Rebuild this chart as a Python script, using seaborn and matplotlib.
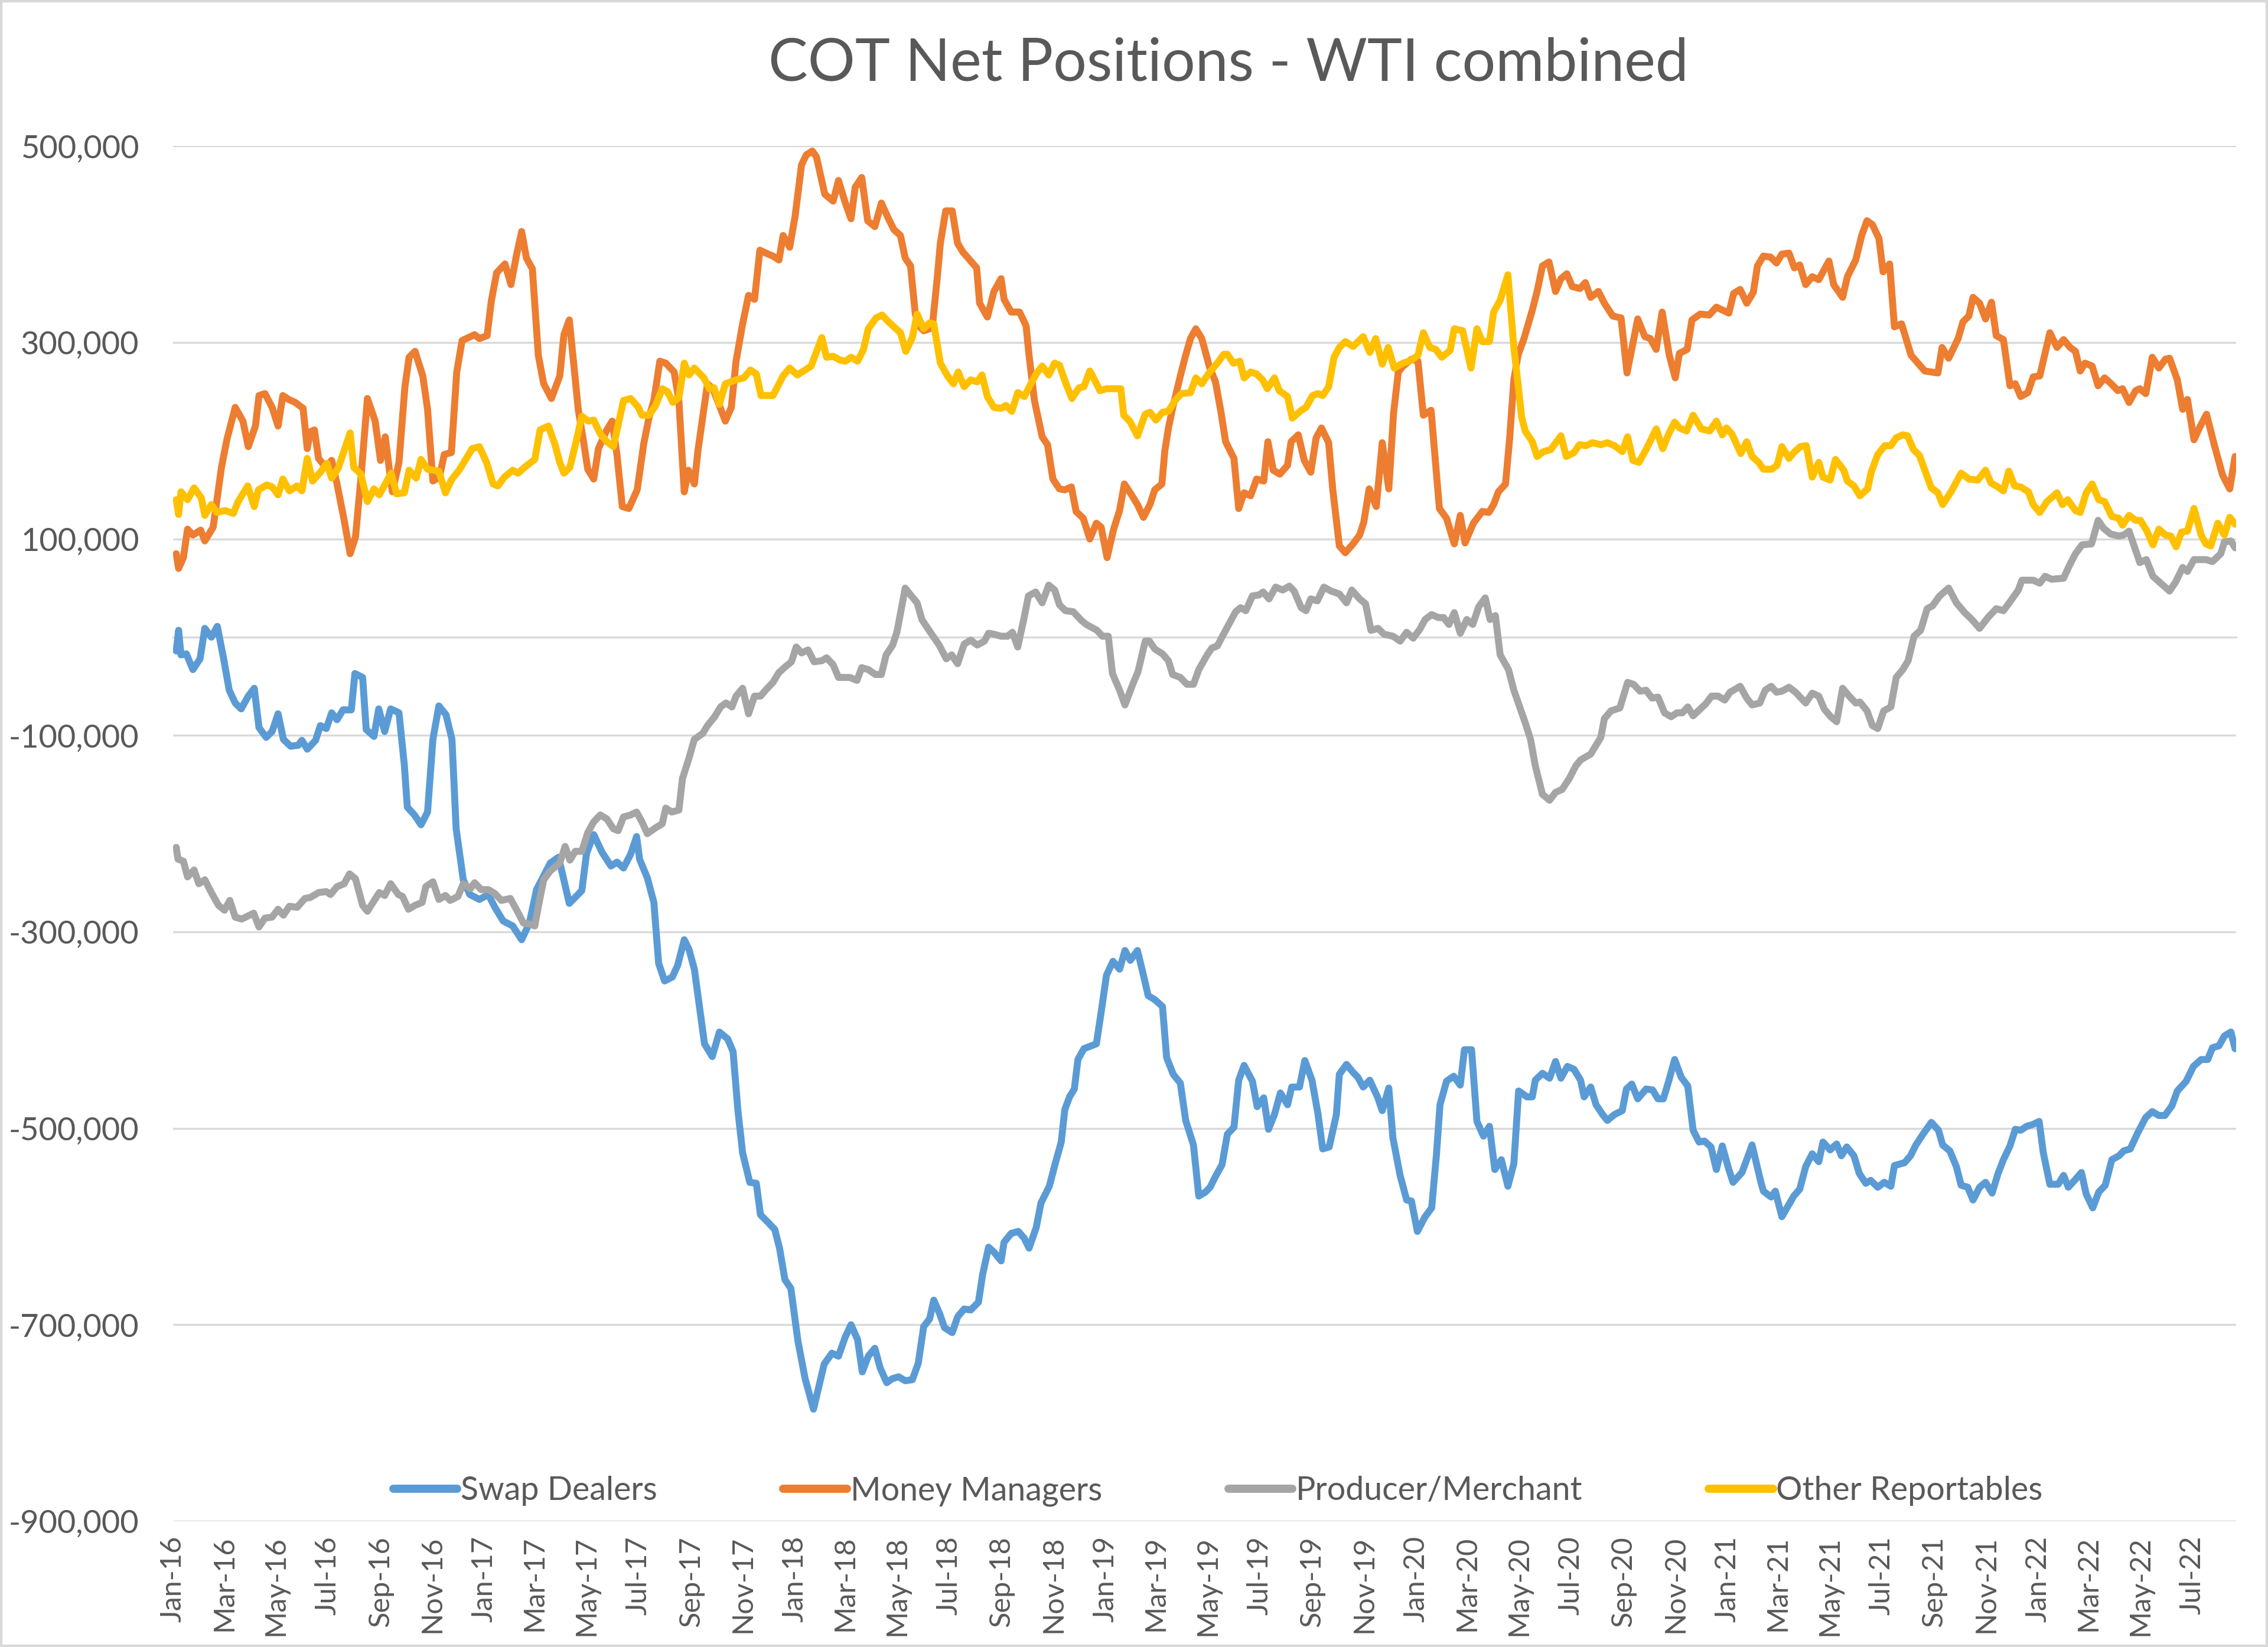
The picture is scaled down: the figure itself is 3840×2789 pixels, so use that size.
import numpy as np
import pandas as pd
import matplotlib
matplotlib.use('Agg')
import matplotlib.pyplot as plt
import matplotlib.dates as mdates
from matplotlib.ticker import FuncFormatter
from matplotlib.patches import Rectangle
import seaborn as sns

# first weekly COT report shown on the chart
START = pd.Timestamp('2016-01-05')

# (weeks since START, net position in thousands of contracts)
swap_dealers = [
    (0, -14), (0.4, 7), (0.8, -18), (1.7, -17), (2.8, -33), (4.0, -22), (4.8, 9), (5.9, 0),
    (6.9, 11), (7.9, -20), (8.9, -54), (9.9, -67), (10.9, -73), (12.1, -60), (13.1, -52),
    (13.9, -92), (15.1, -102), (16.1, -96), (17.1, -78), (18.0, -104), (19.2, -111),
    (20.5, -110), (21.1, -105), (22.0, -114), (23.4, -105), (24.2, -90), (25.2, -93),
    (26.1, -77), (27.0, -84), (28.0, -74), (29.4, -74), (30.0, -37), (31.3, -41), (31.9, -94),
    (33.2, -101), (34.0, -73), (35.0, -96), (36.0, -73), (37.4, -77), (38.3, -130),
    (38.8, -173), (40.0, -181), (41.1, -191), (42.2, -178), (43.1, -104), (44.1, -70),
    (45.3, -79), (46.3, -104), (47.0, -195), (48.2, -247), (49.3, -262), (50.9, -267),
    (52.4, -262), (53.5, -275), (54.9, -289), (56.5, -294), (58.0, -308), (59.3, -291),
    (60.5, -257), (61.7, -243), (62.8, -230), (64.2, -224), (65.0, -245), (66.0, -271),
    (68.1, -258), (68.9, -220), (70.1, -201), (71.5, -219), (73.0, -233), (74.0, -229),
    (75.1, -235), (76.3, -221), (77.3, -203), (77.8, -226), (79.1, -245), (80.2, -270),
    (81.0, -332), (82.0, -350), (83.3, -346), (84.2, -334), (85.3, -308), (86.1, -318),
    (87.0, -338), (88.7, -414), (90.0, -427), (91.2, -402), (92.6, -409), (93.5, -422),
    (94.3, -481), (95.1, -525), (96.3, -555), (97.4, -556), (98.1, -588), (99.4, -596),
    (100.5, -603), (101.3, -622), (102.2, -654), (103.2, -663), (104.4, -717), (105.6, -755),
    (107.0, -786), (108.8, -740), (110.1, -729), (111.2, -732), (112.3, -713), (113.3, -700),
    (114.4, -715), (115.2, -748), (116.2, -732), (117.3, -724), (118.2, -744), (119.3, -759),
    (120.2, -755), (121.3, -753), (122.4, -757), (123.6, -756), (124.6, -739), (125.5, -702),
    (126.5, -694), (127.2, -675), (128.2, -689), (129.0, -703), (130.3, -708), (131.2, -692),
    (132.3, -684), (133.4, -685), (134.7, -677), (135.4, -649), (136.4, -621), (137.3, -626),
    (138.5, -635), (139.0, -616), (140.2, -607), (141.4, -605), (142.4, -612), (143.2, -622),
    (144.4, -601), (145.2, -576), (146.6, -559), (147.5, -538), (148.6, -514), (149.2, -481),
    (150.0, -468), (150.8, -460), (151.4, -430), (152.4, -419), (154.5, -414), (155.3, -382),
    (156.2, -344), (157.3, -330), (158.4, -338), (159.3, -319), (160.2, -329), (161.4, -319),
    (162.4, -344), (163.2, -365), (164.3, -369), (165.6, -376), (166.3, -428), (167.4, -445),
    (168.6, -454), (169.5, -492), (170.8, -517), (171.7, -569), (172.8, -565), (173.6, -560),
    (174.5, -549), (175.6, -537), (176.5, -506), (177.6, -499), (178.4, -451), (179.3, -436),
    (180.7, -452), (181.5, -478), (182.6, -469), (183.4, -501), (184.4, -486), (185.4, -464),
    (186.6, -476), (187.3, -458), (188.6, -458), (189.5, -431), (190.7, -451), (191.7, -485),
    (192.5, -521), (193.6, -519), (194.8, -486), (195.3, -445), (196.5, -435), (197.6, -443),
    (198.4, -448), (199.3, -458), (200.4, -451), (201.7, -468), (202.5, -482), (203.6, -459),
    (204.3, -510), (205.5, -548), (206.6, -573), (207.4, -574), (208.4, -605), (209.7, -590),
    (210.8, -581), (211.6, -527), (212.2, -476), (213.3, -452), (214.5, -447), (215.6, -456),
    (216.3, -420), (217.5, -420), (218.4, -493), (219.5, -508), (220.5, -498), (221.4, -542),
    (222.5, -532), (223.6, -559), (224.6, -536), (225.4, -462), (226.8, -468), (227.7, -468),
    (228.2, -451), (229.4, -444), (230.6, -449), (231.6, -432), (232.5, -449), (233.6, -437),
    (234.7, -440), (235.8, -451), (236.4, -468), (237.5, -458), (238.4, -476), (239.5, -486),
    (240.3, -492), (241.5, -486), (242.8, -482), (243.5, -460), (244.4, -455), (245.4, -470),
    (246.8, -460), (247.9, -461), (248.8, -470), (249.7, -470), (250.6, -452), (251.6, -430),
    (252.7, -448), (253.8, -457), (254.7, -502), (255.7, -514), (256.6, -513), (257.7, -519),
    (258.6, -542), (259.6, -518), (260.6, -540), (261.4, -555), (262.9, -545), (263.7, -532),
    (264.6, -517), (266.0, -553), (266.5, -564), (267.8, -570), (268.5, -564), (269.6, -590),
    (271.6, -569), (272.6, -562), (273.6, -539), (274.7, -526), (275.8, -534), (276.5, -514),
    (277.7, -522), (278.8, -516), (279.6, -528), (280.5, -519), (281.7, -528), (282.6, -546),
    (283.7, -556), (284.5, -553), (285.7, -560), (286.8, -555), (287.9, -559), (288.5, -538),
    (290.2, -535), (291.2, -528), (292.1, -517), (293.3, -506), (294.7, -494), (295.9, -502),
    (296.6, -517), (297.8, -523), (298.9, -539), (299.7, -558), (300.8, -560), (301.7, -573),
    (302.8, -560), (303.8, -555), (304.9, -566), (305.9, -546), (306.8, -532), (307.9, -518),
    (308.8, -501), (309.7, -502), (310.7, -498), (311.8, -496), (312.8, -493), (313.5, -525),
    (314.6, -557), (316.0, -557), (316.9, -548), (317.7, -560), (318.9, -552), (319.9, -545),
    (320.7, -567), (321.8, -581), (322.8, -565), (323.9, -558), (325.0, -532), (326.2, -528),
    (327.0, -523), (328.1, -521), (329.4, -504), (330.7, -489), (331.8, -483), (332.9, -487),
    (333.9, -487), (335.1, -477), (336.0, -462), (337.5, -452), (338.7, -437), (340.0, -430),
    (341.1, -430), (341.9, -418), (343.0, -416), (343.9, -406), (345.0, -402), (345.7, -419),
]

money_managers = [
    (0, 85), (0.4, 70), (1.2, 81), (1.9, 110), (2.8, 104), (4.1, 109), (4.8, 98), (6.2, 112),
    (7.6, 173), (8.5, 201), (9.9, 234), (11.2, 220), (12.1, 194), (13.3, 215), (13.9, 246),
    (14.9, 248), (16.1, 234), (17.1, 215), (17.9, 246), (18.9, 242), (20.0, 239), (21.3, 233),
    (22.0, 192), (22.5, 209), (23.2, 211), (23.9, 182), (25.1, 173), (26.1, 180), (27.0, 156),
    (28.2, 119), (29.2, 85), (30.1, 102), (31.0, 161), (32.1, 243), (33.4, 220), (34.3, 180),
    (35.1, 204), (35.9, 165), (36.3, 148), (37.4, 178), (38.4, 255), (39.1, 285), (40.1, 291),
    (41.4, 266), (42.2, 232), (43.1, 159), (44.2, 163), (45.0, 186), (46.2, 188), (47.1, 270),
    (48.0, 302), (50.1, 308), (50.9, 304), (52.2, 307), (52.9, 342), (53.8, 371), (55.2, 380),
    (56.2, 359), (57.1, 388), (58.0, 413), (58.8, 386), (59.8, 375), (60.8, 287), (61.7, 258),
    (63.0, 243), (64.4, 266), (65.1, 308), (66.0, 323), (66.7, 281), (67.5, 232), (68.4, 199),
    (69.1, 171), (70.1, 161), (70.9, 192), (72.3, 211), (73.2, 220), (74.0, 186), (74.9, 133),
    (76.0, 131), (77.4, 150), (78.5, 197), (79.4, 224), (80.2, 241), (81.2, 281), (82.2, 279),
    (83.6, 270), (84.4, 241), (85.3, 148), (86.0, 170), (87.0, 156), (87.6, 190), (88.4, 224),
    (89.2, 258), (90.1, 253), (91.2, 236), (92.2, 220), (93.2, 234), (94.0, 281), (95.1, 319),
    (96.1, 348), (97.1, 344), (98.0, 394), (99.4, 390), (100.2, 388), (101.2, 384),
    (101.9, 409), (103.0, 397), (103.9, 428), (105.0, 481), (105.8, 491), (106.8, 495),
    (107.5, 489), (108.9, 451), (110.3, 444), (111.2, 465), (112.3, 443), (113.3, 426),
    (114.0, 458), (115.1, 468), (116.1, 424), (117.3, 418), (118.4, 442), (119.6, 426),
    (120.5, 415), (121.6, 409), (122.4, 386), (123.3, 378), (124.1, 329), (124.7, 317),
    (125.5, 312), (126.5, 314), (127.0, 319), (127.8, 367), (128.3, 401), (129.2, 434),
    (130.3, 434), (131.2, 401), (132.1, 392), (133.1, 385), (134.4, 376), (134.9, 340),
    (136.2, 326), (137.3, 352), (138.5, 365), (139.0, 344), (140.2, 331), (141.6, 331),
    (142.7, 317), (143.2, 287), (144.1, 241), (145.4, 204), (146.3, 196), (147.2, 161),
    (148.3, 151), (149.2, 150), (150.3, 153), (151.1, 128), (152.3, 121), (153.4, 100),
    (154.5, 116), (155.3, 112), (156.3, 81), (157.4, 110), (158.4, 129), (159.2, 156),
    (160.4, 145), (161.4, 135), (162.4, 122), (163.5, 135), (164.3, 150), (165.5, 156),
    (166.0, 190), (166.6, 213), (167.4, 236), (168.6, 266), (169.4, 285), (170.3, 304),
    (171.2, 314), (172.2, 304), (173.5, 275), (174.5, 260), (175.4, 230), (176.2, 199),
    (177.6, 182), (178.4, 131), (179.3, 147), (180.4, 144), (181.4, 161), (182.6, 159),
    (183.3, 199), (184.2, 170), (185.3, 166), (186.6, 175), (187.2, 199), (188.4, 206),
    (189.4, 180), (190.5, 168), (191.4, 203), (192.3, 213), (193.5, 198), (194.2, 150),
    (195.3, 93), (196.3, 86), (197.6, 95), (198.7, 104), (199.4, 117), (200.3, 151),
    (201.5, 133), (202.5, 198), (203.6, 151), (204.4, 228), (205.2, 270), (206.0, 276),
    (207.4, 283), (208.5, 281), (209.4, 226), (210.7, 231), (212.1, 131), (213.3, 121),
    (214.6, 95), (215.6, 124), (216.4, 96), (217.8, 116), (219.3, 128), (220.4, 127),
    (221.2, 135), (222.0, 148), (223.2, 156), (223.9, 203), (224.6, 262), (225.3, 287),
    (226.3, 304), (227.7, 333), (228.5, 352), (229.4, 378), (230.5, 382), (231.6, 352),
    (232.5, 365), (233.5, 370), (234.4, 357), (235.7, 355), (236.6, 361), (237.5, 346),
    (238.8, 352), (239.8, 340), (241.2, 327), (242.6, 325), (243.6, 269), (245.4, 324),
    (246.6, 306), (247.5, 304), (248.5, 293), (249.5, 331), (250.7, 287), (251.7, 264),
    (252.4, 289), (253.7, 293), (254.5, 323), (255.9, 329), (257.4, 328), (258.6, 336),
    (260.7, 330), (261.5, 350), (262.6, 354), (263.7, 340), (264.8, 351), (265.5, 378),
    (266.5, 388), (267.7, 387), (268.7, 381), (269.6, 390), (270.8, 391), (271.7, 376),
    (272.6, 379), (273.6, 359), (274.7, 367), (275.8, 364), (277.5, 383), (278.3, 359),
    (279.8, 346), (280.6, 367), (282.0, 384), (283.0, 409), (283.9, 424), (284.8, 420),
    (285.9, 406), (286.6, 372), (287.7, 380), (288.5, 316), (289.7, 319), (291.3, 287),
    (293.6, 271), (295.8, 269), (296.5, 295), (297.6, 284), (299.2, 304), (300.0, 321),
    (301.0, 327), (301.7, 346), (302.8, 340), (303.8, 324), (304.8, 341), (305.6, 307),
    (306.8, 303), (307.9, 256), (308.8, 258), (309.7, 245), (310.9, 249), (311.8, 265),
    (312.9, 266), (314.6, 310), (315.8, 295), (316.9, 303), (318.0, 295), (318.9, 291),
    (319.7, 271), (320.5, 279), (321.7, 276), (322.7, 256), (323.8, 264), (324.9, 258),
    (326.0, 251), (326.8, 253), (327.9, 239), (329.0, 251), (329.7, 253), (330.7, 248),
    (331.8, 285), (332.9, 274), (334.0, 283), (334.7, 284), (336.0, 262), (336.9, 232),
    (337.7, 242), (338.8, 201), (339.7, 213), (340.9, 227), (342.2, 196), (343.6, 165),
    (344.8, 151), (345.7, 184),
]

producer_merchant = [
    (0, -214), (0.3, -226), (1.2, -228), (1.9, -244), (3.0, -237), (3.8, -251), (4.8, -247),
    (5.9, -260), (7.1, -273), (8.1, -278), (9.0, -268), (9.9, -285), (11.0, -287),
    (13.0, -281), (13.9, -295), (14.9, -286), (16.1, -285), (17.1, -277), (18.0, -283),
    (19.0, -274), (20.3, -275), (21.6, -266), (22.5, -265), (23.9, -260), (25.2, -259),
    (25.9, -262), (27.0, -254), (28.2, -251), (29.1, -241), (30.1, -246), (31.3, -273),
    (32.1, -279), (34.1, -260), (35.0, -263), (36.0, -251), (37.3, -262), (38.0, -264),
    (39.0, -277), (40.1, -273), (41.3, -270), (41.9, -254), (43.1, -249), (44.1, -267),
    (45.2, -263), (46.0, -268), (47.3, -264), (48.2, -251), (49.4, -256), (50.1, -250),
    (51.2, -257), (52.4, -257), (53.5, -261), (54.6, -268), (56.1, -266), (57.1, -277),
    (58.3, -291), (59.3, -292), (60.2, -294), (61.0, -268), (61.7, -247), (62.8, -238),
    (64.4, -230), (65.3, -213), (66.1, -227), (67.0, -218), (68.1, -218), (69.1, -199),
    (70.1, -188), (71.2, -181), (72.3, -185), (73.4, -195), (74.2, -197), (75.1, -183),
    (76.3, -181), (77.3, -178), (78.2, -188), (79.1, -200), (80.5, -194), (81.6, -190),
    (82.2, -174), (83.2, -178), (84.4, -176), (85.0, -144), (86.1, -123), (87.0, -104),
    (88.4, -98), (89.2, -90), (90.4, -81), (91.4, -71), (92.3, -67), (93.3, -71), (94.0, -60),
    (95.1, -52), (96.1, -78), (97.1, -60), (98.1, -60), (99.1, -53), (100.2, -46),
    (101.2, -36), (102.3, -30), (103.3, -25), (104.1, -10), (105.0, -16), (106.1, -13),
    (107.1, -25), (108.4, -24), (109.2, -21), (110.3, -28), (111.2, -41), (113.1, -41),
    (114.3, -44), (115.1, -31), (116.2, -33), (117.4, -38), (118.4, -38), (119.2, -18),
    (120.3, -8), (121.0, 5), (121.6, 24), (122.4, 50), (123.3, 43), (124.4, 35), (125.2, 18),
    (126.4, 7), (128.1, -8), (129.3, -22), (130.2, -18), (131.2, -27), (132.3, -7),
    (133.4, -3), (134.5, -8), (135.7, -4), (136.4, 4), (137.3, 3), (138.5, 1), (139.6, 1),
    (140.4, 5), (141.3, -10), (142.3, 18), (143.1, 42), (144.3, 46), (145.4, 35), (146.5, 53),
    (147.5, 48), (148.3, 33), (149.3, 27), (150.6, 26), (152.0, 17), (152.8, 13), (154.6, 7),
    (155.5, 1), (156.5, 1), (157.2, -37), (158.4, -54), (159.3, -69), (160.6, -48),
    (161.5, -35), (162.7, -4), (163.4, -4), (164.3, -12), (165.6, -17), (166.6, -24),
    (167.3, -38), (168.6, -41), (169.7, -48), (170.8, -48), (171.7, -33), (173.1, -18),
    (173.9, -11), (174.8, -9), (176.2, 7), (177.9, 26), (178.7, 30), (179.6, 27), (180.7, 42),
    (181.8, 43), (182.5, 46), (183.5, 39), (184.6, 51), (185.8, 48), (186.9, 52), (187.7, 47),
    (188.9, 30), (189.7, 27), (190.5, 39), (191.6, 37), (192.7, 51), (193.9, 47), (195.3, 44),
    (196.5, 35), (197.4, 48), (198.7, 39), (199.7, 34), (200.6, 7), (201.8, 9), (202.8, 3),
    (204.3, 1), (205.5, -4), (206.6, 5), (207.7, -1), (208.8, 8), (209.7, 18), (210.8, 23),
    (211.9, 20), (212.8, 20), (213.7, 13), (214.6, 25), (215.6, 4), (216.7, 18), (217.7, 13),
    (218.7, 31), (219.8, 40), (220.6, 18), (221.5, 22), (222.3, -18), (223.7, -33),
    (224.6, -54), (225.7, -73), (226.5, -87), (227.4, -104), (228.2, -131), (229.4, -160),
    (230.6, -166), (231.6, -158), (232.7, -155), (233.9, -144), (235.0, -131), (235.8, -125),
    (237.5, -119), (239.2, -102), (239.8, -83), (240.9, -75), (242.4, -72), (243.7, -46),
    (244.7, -48), (245.8, -55), (246.8, -54), (247.8, -62), (248.8, -61), (249.9, -77),
    (251.0, -81), (252.0, -77), (252.9, -77), (253.8, -71), (254.7, -80), (256.1, -72),
    (256.8, -68), (257.8, -60), (258.9, -60), (260.0, -64), (260.9, -56), (262.6, -50),
    (263.7, -62), (264.6, -69), (265.9, -67), (266.8, -54), (267.8, -50), (268.7, -56),
    (269.6, -55), (270.8, -51), (271.9, -56), (273.6, -67), (274.7, -57), (275.8, -60),
    (276.7, -73), (277.8, -81), (278.8, -86), (279.8, -52), (280.9, -60), (282.0, -67),
    (282.7, -66), (283.9, -75), (284.8, -90), (285.7, -93), (286.7, -75), (287.9, -71),
    (288.8, -41), (289.9, -33), (290.8, -24), (291.8, 1), (292.9, 7), (294.0, 29), (294.9, 32),
    (296.1, 42), (297.6, 50), (298.9, 35), (300.3, 25), (301.5, 18), (302.8, 9), (304.2, 20),
    (305.6, 29), (306.8, 27), (307.9, 36), (309.3, 48), (309.9, 58), (311.8, 58), (312.9, 55),
    (313.8, 62), (314.9, 59), (316.9, 60), (317.8, 72), (318.9, 85), (320.0, 94), (321.6, 95),
    (322.7, 119), (323.6, 111), (324.8, 105), (326.2, 103), (327.0, 104), (327.9, 108),
    (329.7, 76), (330.8, 79), (331.9, 62), (333.2, 55), (334.7, 47), (335.7, 56), (336.9, 71),
    (337.7, 67), (338.8, 79), (340.8, 79), (341.9, 77), (343.3, 85), (343.9, 97), (345.0, 98),
    (345.7, 91),
]

other_reportables = [
    (0, 140), (0.4, 125), (0.8, 148), (1.9, 140), (3.0, 152), (4.2, 142), (4.8, 124),
    (5.9, 135), (6.8, 127), (8.2, 129), (9.6, 126), (10.4, 138), (12.0, 154), (13.1, 133),
    (13.8, 150), (15.2, 155), (16.1, 153), (17.1, 145), (17.9, 161), (19.0, 149), (20.3, 154),
    (21.1, 149), (22.0, 182), (22.9, 159), (24.2, 168), (25.3, 177), (26.1, 162), (27.2, 172),
    (28.2, 190), (29.2, 208), (29.8, 173), (31.0, 166), (32.1, 138), (33.2, 151), (34.1, 145),
    (35.1, 156), (36.1, 167), (37.0, 146), (38.3, 147), (39.1, 170), (40.3, 162), (41.1, 181),
    (42.2, 171), (44.1, 169), (45.2, 147), (46.2, 160), (47.6, 171), (48.7, 182), (49.7, 192),
    (50.9, 194), (52.1, 178), (53.2, 156), (54.0, 154), (55.1, 163), (56.5, 170), (57.4, 167),
    (58.5, 173), (60.2, 181), (61.1, 211), (62.5, 215), (63.6, 196), (64.4, 178), (65.1, 167),
    (66.1, 173), (67.3, 203), (68.1, 225), (69.2, 220), (70.1, 221), (71.2, 207), (72.3, 199),
    (73.4, 194), (75.1, 241), (76.3, 243), (77.6, 234), (78.2, 226), (79.4, 226), (80.5, 236),
    (81.6, 253), (82.5, 250), (83.4, 239), (84.4, 244), (85.3, 279), (86.1, 267), (87.0, 274),
    (88.6, 264), (89.5, 253), (90.3, 254), (91.2, 237), (92.2, 258), (94.0, 262), (95.3, 264),
    (96.4, 272), (97.4, 268), (98.2, 246), (100.2, 246), (101.9, 266), (103.0, 274),
    (104.3, 267), (105.6, 272), (106.6, 276), (108.4, 305), (109.2, 285), (110.3, 286),
    (111.5, 282), (112.4, 281), (113.3, 285), (114.4, 281), (115.4, 293), (116.2, 314),
    (117.5, 325), (118.5, 328), (119.6, 321), (121.6, 310), (122.5, 291), (123.6, 305),
    (124.4, 329), (125.5, 314), (126.5, 320), (127.2, 319), (128.3, 279), (129.5, 266),
    (130.5, 258), (131.3, 270), (132.3, 255), (133.4, 262), (134.5, 260), (135.3, 267),
    (136.2, 245), (137.3, 234), (138.5, 233), (139.3, 236), (140.3, 230), (141.3, 249),
    (142.4, 245), (143.5, 258), (144.4, 268), (145.4, 276), (146.5, 267), (147.5, 279),
    (148.3, 277), (149.4, 258), (150.4, 243), (151.6, 254), (152.4, 255), (153.4, 271),
    (154.2, 262), (155.1, 251), (156.2, 253), (158.6, 253), (159.1, 226), (160.1, 220),
    (161.4, 205), (162.7, 227), (163.5, 229), (164.5, 221), (165.6, 229), (166.6, 230),
    (167.7, 241), (168.8, 248), (170.3, 249), (171.2, 264), (172.2, 258), (173.3, 268),
    (174.8, 279), (175.9, 288), (176.5, 288), (177.5, 279), (178.6, 281), (179.3, 264),
    (180.4, 270), (181.4, 268), (182.4, 262), (183.2, 253), (184.4, 264), (185.2, 251),
    (186.6, 245), (187.4, 223), (188.9, 231), (189.7, 234), (190.8, 246), (191.7, 248),
    (192.5, 246), (193.5, 255), (194.4, 285), (195.3, 295), (196.3, 301), (197.6, 296),
    (199.3, 306), (200.4, 290), (201.4, 304), (202.5, 278), (203.5, 295), (204.5, 274),
    (206.0, 279), (207.4, 282), (208.5, 287), (209.4, 310), (210.5, 295), (211.5, 293),
    (212.5, 285), (213.9, 292), (214.6, 314), (216.0, 312), (217.4, 274), (218.4, 314),
    (219.3, 301), (220.5, 301), (221.2, 331), (222.3, 343), (223.6, 369), (224.6, 295),
    (225.3, 258), (225.9, 224), (226.5, 210), (227.7, 199), (228.5, 184), (229.6, 189),
    (230.8, 191), (232.5, 205), (233.4, 184), (234.7, 188), (235.6, 196), (236.7, 195),
    (237.8, 198), (239.2, 196), (240.3, 198), (241.5, 195), (242.8, 189), (243.7, 204),
    (244.6, 180), (245.6, 178), (246.8, 191), (248.5, 212), (249.6, 192), (250.6, 207),
    (251.6, 219), (252.4, 213), (253.6, 210), (254.7, 226), (256.1, 212), (257.5, 210),
    (258.6, 220), (259.6, 206), (260.3, 213), (261.2, 207), (262.7, 187), (263.7, 199),
    (264.6, 184), (265.7, 178), (266.5, 171), (267.9, 171), (268.8, 175), (269.6, 194),
    (270.8, 182), (271.6, 188), (272.7, 194), (273.7, 195), (274.7, 163), (275.8, 178),
    (276.5, 163), (277.7, 160), (278.6, 181), (280.0, 170), (280.6, 159), (281.7, 154),
    (282.7, 144), (284.0, 151), (284.6, 168), (285.7, 186), (286.9, 195), (287.9, 195),
    (288.8, 203), (289.9, 206), (290.7, 205), (291.7, 191), (292.7, 185), (293.6, 170),
    (294.7, 152), (295.8, 147), (296.6, 135), (298.0, 148), (299.7, 167), (301.0, 161),
    (302.5, 160), (303.8, 170), (304.7, 157), (305.6, 154), (306.8, 149), (307.7, 169),
    (308.7, 154), (309.7, 153), (311.0, 148), (311.8, 135), (312.9, 127), (314.1, 138),
    (315.8, 147), (316.7, 135), (317.6, 140), (318.9, 129), (319.7, 127), (320.7, 147),
    (321.7, 156), (322.8, 140), (323.8, 138), (325.0, 123), (326.2, 121), (326.8, 114),
    (327.9, 124), (329.0, 119), (329.8, 119), (330.9, 108), (331.9, 94), (332.9, 110),
    (334.0, 104), (334.9, 103), (335.8, 92), (336.7, 107), (337.7, 108), (338.8, 131),
    (340.0, 104), (340.8, 95), (341.6, 93), (342.8, 116), (343.9, 104), (344.8, 122),
    (345.7, 115),
]

SERIES = ['Swap Dealers', 'Money Managers', 'Producer/Merchant', 'Other Reportables']
COLORS = ['#5B9BD5', '#ED7D31', '#A5A5A5', '#FFC000']
TEXT = '#595959'
GRID = '#D9D9D9'


def to_frame(points, name):
    weeks, vals = zip(*points)
    dates = START + pd.to_timedelta(np.array(weeks) * 7, unit='D')
    return pd.DataFrame({'date': dates, 'net': np.array(vals) * 1000, 'series': name})


df = pd.concat([to_frame(p, n) for p, n in
                zip([swap_dealers, money_managers, producer_merchant, other_reportables], SERIES)],
               ignore_index=True)

sns.set_theme(style='white')
plt.rcParams['font.family'] = ['Lato', 'DejaVu Sans']

fig = plt.figure(figsize=(38.4, 27.89), dpi=100)
ax = fig.add_axes([0.0762, 0.0764, 0.9097, 0.8349])

sns.lineplot(data=df, x='date', y='net', hue='series', hue_order=SERIES,
             palette=dict(zip(SERIES, COLORS)), estimator=None, sort=False,
             linewidth=8.5, ax=ax, zorder=3)

ax.set_xlim(pd.Timestamp('2016-01-01'), pd.Timestamp('2022-08-22'))
ax.set_ylim(-900000, 500000)
ax.set_xlabel('')
ax.set_ylabel('')

# y axis: labels every 200k, gridlines only
ax.set_yticks(np.arange(-900000, 500001, 200000))
ax.yaxis.set_major_formatter(FuncFormatter(lambda v, _: f'{v:,.0f}'))
ax.tick_params(axis='y', length=0, pad=41, labelsize=39, labelcolor=TEXT)
ax.yaxis.grid(True, color=GRID, linewidth=2.4)
ax.xaxis.grid(False)
ax.set_axisbelow(True)

for side in ['left', 'right', 'top']:
    ax.spines[side].set_visible(False)

# category axis crosses at zero, with outside tick marks every 2 months
tick_dates = pd.date_range('2016-01-01', '2022-07-01', freq='2MS')
ax.spines['bottom'].set_position(('data', 0))
ax.spines['bottom'].set_color(GRID)
ax.spines['bottom'].set_linewidth(2.4)
ax.spines['bottom'].set_zorder(2)
ax.set_xticks(tick_dates)
ax.tick_params(axis='x', direction='out', length=10, width=2.4, color=GRID,
               labelbottom=False)

# date labels sit low, under the -900,000 line
sec = ax.secondary_xaxis(0.0)
sec.set_xticks(mdates.date2num(tick_dates))
sec.xaxis.set_major_formatter(FuncFormatter(lambda x, _: mdates.num2date(x).strftime('%b-%y')))
sec.tick_params(axis='x', length=0, pad=18, labelsize=35, labelcolor=TEXT, labelrotation=90)
sec.spines['bottom'].set_visible(False)

fig.text(0.5417, 0.9612, 'COT Net Positions - WTI combined', ha='center', va='center',
         fontsize=72, color=TEXT)

handles, labels = ax.get_legend_handles_labels()
if ax.get_legend() is not None:
    ax.get_legend().remove()
leg = fig.legend(handles, labels, loc='center', bbox_to_anchor=(0.537, 0.0947), ncol=4,
                 frameon=False, fontsize=40, handlelength=1.95, handletextpad=0.1,
                 columnspacing=3.85, labelcolor=TEXT)
for h in leg.legend_handles:
    h.set_linewidth(10)
    h.set_solid_capstyle('round')

fig.patches.append(Rectangle((0, 0), 1, 1, transform=fig.transFigure, fill=False,
                             edgecolor=GRID, linewidth=6))

fig.savefig('out.png', dpi=100)
